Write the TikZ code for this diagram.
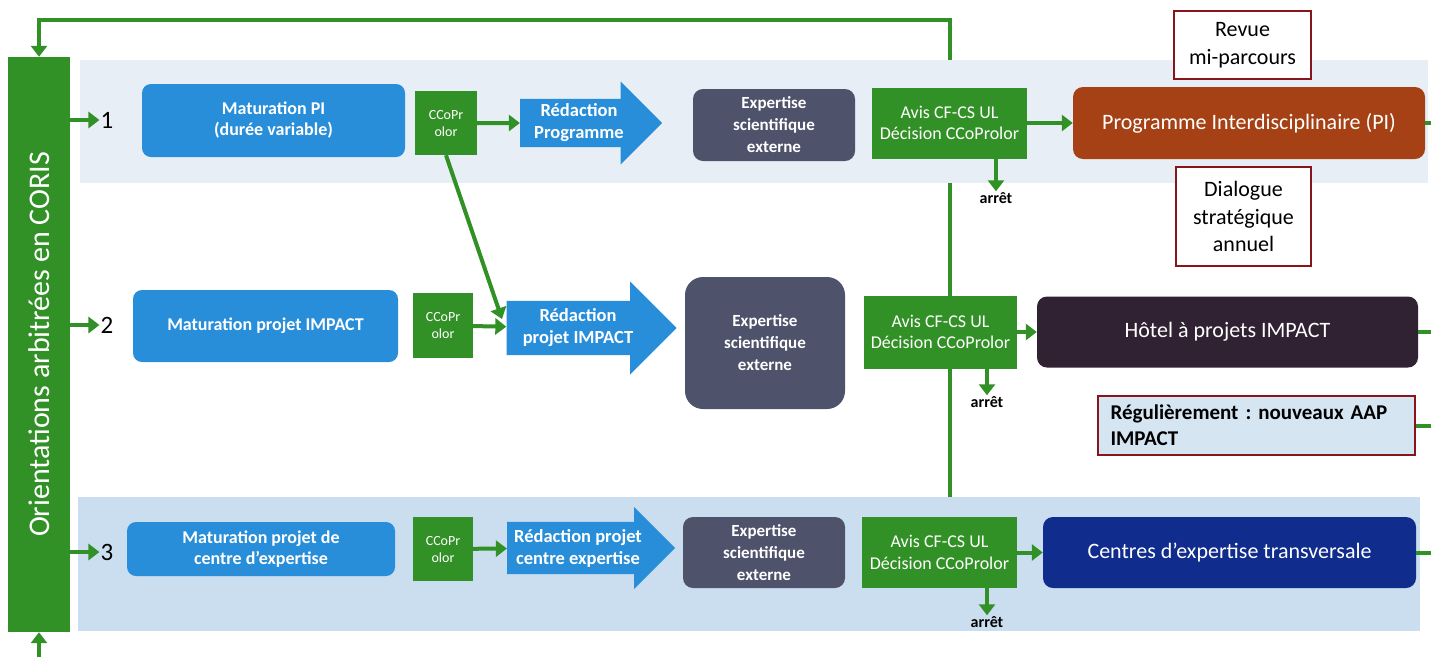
\documentclass[tikz,border=0pt]{standalone}
\usepackage{fontspec}
\setmainfont{Carlito}
\usetikzlibrary{arrows.meta,shapes.arrows}

\definecolor{vert}{RGB}{50,145,38}
\definecolor{bleu}{RGB}{40,142,218}
\definecolor{ardoise}{RGB}{78,82,106}
\definecolor{brique}{RGB}{165,65,20}
\definecolor{aubergine}{RGB}{48,34,50}
\definecolor{marine}{RGB}{16,44,140}
\definecolor{bordeaux}{RGB}{135,22,28}
\definecolor{bande}{RGB}{232,238,245}
\definecolor{bandebleue}{RGB}{202,222,240}
\definecolor{notefond}{RGB}{214,229,242}

\begin{document}
\frenchspacing
\begin{tikzpicture}[x=1pt,y=-1pt,->,>={Triangle[length=11pt,width=16pt]},
  every edge/.append style={vert,line width=4pt},
  fleche/.style={vert,line width=4pt},
  boite/.style={align=center,text=white,inner sep=3pt},
  matur/.style={boite,fill=bleu,rounded corners=9pt,font=\fontsize{18}{21}\selectfont\bfseries},
  ccopr/.style={boite,fill=vert,font=\fontsize{14}{17}\selectfont},
  redac/.style={boite,fill=bleu,single arrow,single arrow head extend=16pt,font=\fontsize{18.5}{22}\selectfont\bfseries},
  expert/.style={boite,fill=ardoise,rounded corners=10pt,font=\fontsize{17}{22}\selectfont\bfseries},
  avis/.style={boite,fill=vert,font=\fontsize{18}{21.5}\selectfont},
  final/.style={boite,rounded corners=10pt,font=\fontsize{22}{26}\selectfont},
  jalon/.style={align=center,draw=bordeaux,line width=2.5pt,fill=white,text=black,font=\fontsize{22}{27.5}\selectfont},
  num/.style={text=black,inner sep=1pt,font=\fontsize{25}{28}\selectfont},
  arret/.style={text=black,inner sep=1pt,font=\fontsize{16}{18}\selectfont\bfseries}]
\useasboundingbox (0,0) rectangle (1431,657);
\fill[white] (0,0) rectangle (1431,657);

\node[boite,fill=vert,minimum width=62pt,minimum height=575pt,font=\fontsize{30}{36}\selectfont] (coris) at (39,344.5) {\rotatebox{90}{Orientations arbitrées en CORIS}};

% retour vers CORIS
\coordinate (retour) at (950,497);
\coordinate (haut) at (950,20);
\coordinate (bas) at (39,657);
\draw[fleche] (retour) -- (haut) -| (coris.north);
\draw[fleche] (bas) -- (coris.south);

\fill[bande] (80,60) rectangle (1428,183);
\fill[bandebleue] (78,497) rectangle (1420,631);

% ligne 1
\node[num] (n1) at (107,120) {1};
\node[matur,minimum width=263pt,minimum height=73pt] (mat1) at (273.5,120.5) {Maturation PI\\(durée variable)};
\node[ccopr,minimum width=62pt,minimum height=64pt] (cc1) at (446,123) {CCoPr\\olor};
\node[redac,minimum height=142pt,minimum width=83pt] (red1) at (579,123) {Rédaction\\Programme};
\node[expert,minimum width=162pt,minimum height=72pt] (exp1) at (774,125) {Expertise\\scientifique\\externe};
\node[avis,minimum width=155pt,minimum height=71pt] (avis1) at (949.5,123) {Avis CF-CS UL\\Décision CCoProlor};
\node[final,fill=brique,minimum width=352pt,minimum height=72pt] (pi) at (1249,123) {Programme Interdisciplinaire (PI)};
\node[jalon,minimum width=137pt,minimum height=68pt] (revue) at (1242.5,45) {Revue\\mi-parcours};
\node[jalon,minimum width=135pt,minimum height=99pt] (dialogue) at (1243.5,216.5) {Dialogue\\stratégique\\annuel};
\node[arret] (stop1) at (996,198) {arrêt};
\coordinate (sortie1) at (1431,123);

% ligne 2
\node[num] (n2) at (107,325) {2};
\node[matur,minimum width=265pt,minimum height=72pt] (mat2) at (265.5,326) {Maturation projet IMPACT};
\node[ccopr,minimum width=60pt,minimum height=65pt] (cc2) at (443,325.5) {CCoPr\\olor};
\node[redac,minimum height=170pt,minimum width=93pt] (red2) at (578,328) {Rédaction\\projet IMPACT};
\node[expert,rounded corners=18pt,minimum width=160pt,minimum height=132pt] (exp2) at (765,343) {Expertise\\scientifique\\externe};
\node[avis,minimum width=153pt,minimum height=73pt] (avis2) at (940.5,332) {Avis CF-CS UL\\Décision CCoProlor};
\node[final,fill=aubergine,minimum width=381pt,minimum height=71pt] (hotel) at (1227.5,332) {Hôtel à projets IMPACT};
\node[jalon,fill=notefond,align=left,inner xsep=11pt,text width=292pt,minimum width=317pt,minimum height=59pt,font=\fontsize{21}{26}\selectfont\bfseries] (regul) at (1256.5,425.5) {Régulièrement : nouveaux AAP\\IMPACT};
\node[arret] (stop2) at (987,402) {arrêt};
\coordinate (entree2) at (502,319);
\coordinate (sortie2) at (1431,332);
\coordinate (sortie2b) at (1431,425.5);

% ligne 3
\node[num] (n3) at (107,552) {3};
\node[matur,minimum width=268pt,minimum height=54pt] (mat3) at (261,549) {Maturation projet de\\centre d’expertise};
\node[ccopr,minimum width=60pt,minimum height=64pt] (cc3) at (443,549) {CCoPr\\olor};
\node[redac,minimum height=168pt,minimum width=82pt,single arrow head extend=12.5pt] (red3) at (578,548) {Rédaction projet\\centre expertise};
\node[expert,minimum width=162pt,minimum height=71pt] (exp3) at (764,552.5) {Expertise\\scientifique\\externe};
\node[avis,minimum width=155pt,minimum height=71pt] (avis3) at (939.5,552.5) {Avis CF-CS UL\\Décision CCoProlor};
\node[final,fill=marine,minimum width=373pt,minimum height=71pt] (centres) at (1229.5,552.5) {Centres d’expertise transversale};
\node[arret] (stop3) at (987,622) {arrêt};
\coordinate (sortie3) at (1431,552.5);

\path (coris.east |- n1) edge (n1)
      (cc1) edge (red1)
      (avis1) edge (pi)
      (avis1.south -| stop1) edge (stop1)
      (pi) edge[-] (sortie1);
\path (coris.east |- n2) edge (n2)
      (cc1.south) edge (entree2)
      (cc2) edge (red2)
      (avis2) edge (hotel)
      (avis2.south -| stop2) edge (stop2)
      (hotel) edge[-] (sortie2)
      (regul) edge[-] (sortie2b);
\path (coris.east |- n3) edge (n3)
      (cc3) edge (red3)
      (avis3) edge (centres)
      (avis3.south -| stop3) edge (stop3)
      (centres) edge[-] (sortie3);
\end{tikzpicture}
\end{document}
